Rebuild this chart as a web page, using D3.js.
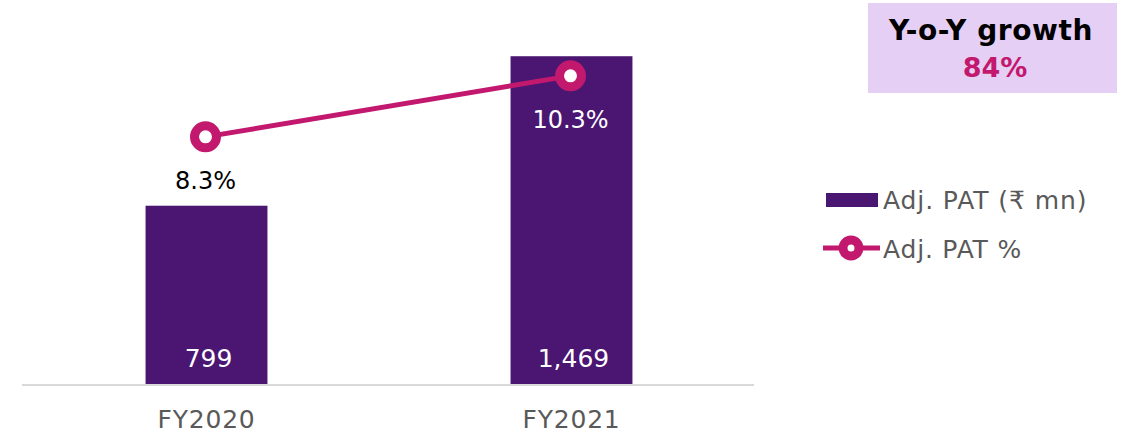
<!DOCTYPE html>
<html>
<head>
<meta charset="utf-8">
<script src="https://cdn.jsdelivr.net/npm/d3@7/dist/d3.min.js"></script>
<style>
  html, body { margin: 0; padding: 0; background: #fff; }
  svg { display: block; font-family: "DejaVu Sans", "Noto Sans", sans-serif; }
</style>
</head>
<body>
<svg id="chart" width="1127" height="434"></svg>
<script>
// Adjusted PAT by fiscal year
const years = ["FY2020", "FY2021"];
const patValues = [799, 1469];          // ₹ mn
const patPercent = [8.3, 10.3];         // margin %
const patLabels = ["799", "1,469"];
const percentLabels = ["8.3%", "10.3%"];
const growthTitle = "Y-o-Y growth";
const growthValue = "84%";
const legendLabels = ["Adj. PAT (₹ mn)", "Adj. PAT %"];

const barColor = "#4A1672";
const lineColor = "#C2186E";
const textGray = "#595959";
const fontFamily = "DejaVu Sans, Noto Sans, sans-serif";

const svg = d3.select("#chart");

const x = d3.scaleBand().domain(years).range([24, 754]).paddingInner(0.666).paddingOuter(0.333);
const y = d3.scaleLinear().domain([0, 1600]).range([384, 27]);
const y2 = d3.scaleLinear().domain([0, 12]).range([390, 24]);

// bars
svg.selectAll("rect.bar").data(years).join("rect")
  .attr("class", "bar")
  .attr("x", d => x(d))
  .attr("width", x.bandwidth())
  .attr("y", (d, i) => y(patValues[i]))
  .attr("height", (d, i) => y(0) - y(patValues[i]))
  .attr("fill", barColor);

// baseline
svg.append("line")
  .attr("x1", 22).attr("x2", 754)
  .attr("y1", y(0) + 1).attr("y2", y(0) + 1)
  .attr("stroke", "#D9D9D9").attr("stroke-width", 2);

// category labels
const xAxis = svg.append("g").attr("transform", `translate(0,${y(0)})`)
  .call(d3.axisBottom(x).tickSize(0).tickPadding(0));
xAxis.select(".domain").remove();
xAxis.selectAll("text")
  .attr("dy", null).attr("y", 44)
  .attr("font-size", 25).attr("fill", textGray)
  .attr("letter-spacing", 0.8)
  .attr("font-family", fontFamily);

// value labels inside bars
svg.selectAll("text.val").data(years).join("text")
  .attr("class", "val")
  .attr("x", d => x(d) + x.bandwidth() / 2 + 2)
  .attr("y", 367)
  .attr("text-anchor", "middle")
  .attr("font-size", 25).attr("fill", "#fff")
  .text((d, i) => patLabels[i]);

// margin line
const cx = d => x(d) + x.bandwidth() / 2 - 1;
svg.append("path")
  .datum(years)
  .attr("d", d3.line().x(d => cx(d)).y((d, i) => y2(patPercent[i])))
  .attr("fill", "none").attr("stroke", lineColor).attr("stroke-width", 5);

svg.selectAll("circle.pt").data(years).join("circle")
  .attr("class", "pt")
  .attr("cx", cx).attr("cy", (d, i) => y2(patPercent[i]))
  .attr("r", 11).attr("fill", "#fff")
  .attr("stroke", lineColor).attr("stroke-width", 9);

svg.selectAll("text.pct").data(years).join("text")
  .attr("class", "pct")
  .attr("x", cx)
  .attr("y", (d, i) => y2(patPercent[i]) + 52)
  .attr("text-anchor", "middle")
  .attr("font-size", 24)
  .attr("fill", (d, i) => i === 0 ? "#000" : "#fff")
  .text((d, i) => percentLabels[i]);

// growth callout
const box = svg.append("g");
box.append("rect").attr("x", 868).attr("y", 3).attr("width", 249).attr("height", 90).attr("fill", "#E6CFF4");
box.append("text").attr("x", 991).attr("y", 40).attr("text-anchor", "middle")
  .attr("font-size", 28).attr("font-weight", "bold").attr("letter-spacing", 0.6)
  .attr("fill", "#000").text(growthTitle);
box.append("text").attr("x", 995).attr("y", 77).attr("text-anchor", "middle")
  .attr("font-size", 27).attr("font-weight", "bold").attr("fill", lineColor).text(growthValue);

// legend
const lg = svg.append("g");
lg.append("rect").attr("x", 826).attr("y", 193).attr("width", 52).attr("height", 14).attr("fill", barColor);
lg.append("text").attr("x", 883).attr("y", 209).attr("font-size", 25).attr("letter-spacing", 0.9)
  .attr("fill", textGray).text(legendLabels[0]);
lg.append("line").attr("x1", 823).attr("x2", 880).attr("y1", 248).attr("y2", 248)
  .attr("stroke", lineColor).attr("stroke-width", 5);
lg.append("circle").attr("cx", 851).attr("cy", 248).attr("r", 8).attr("fill", "#fff")
  .attr("stroke", lineColor).attr("stroke-width", 9);
lg.append("text").attr("x", 883).attr("y", 258).attr("font-size", 25).attr("letter-spacing", 0.8)
  .attr("fill", textGray).text(legendLabels[1]);
</script>
</body>
</html>
